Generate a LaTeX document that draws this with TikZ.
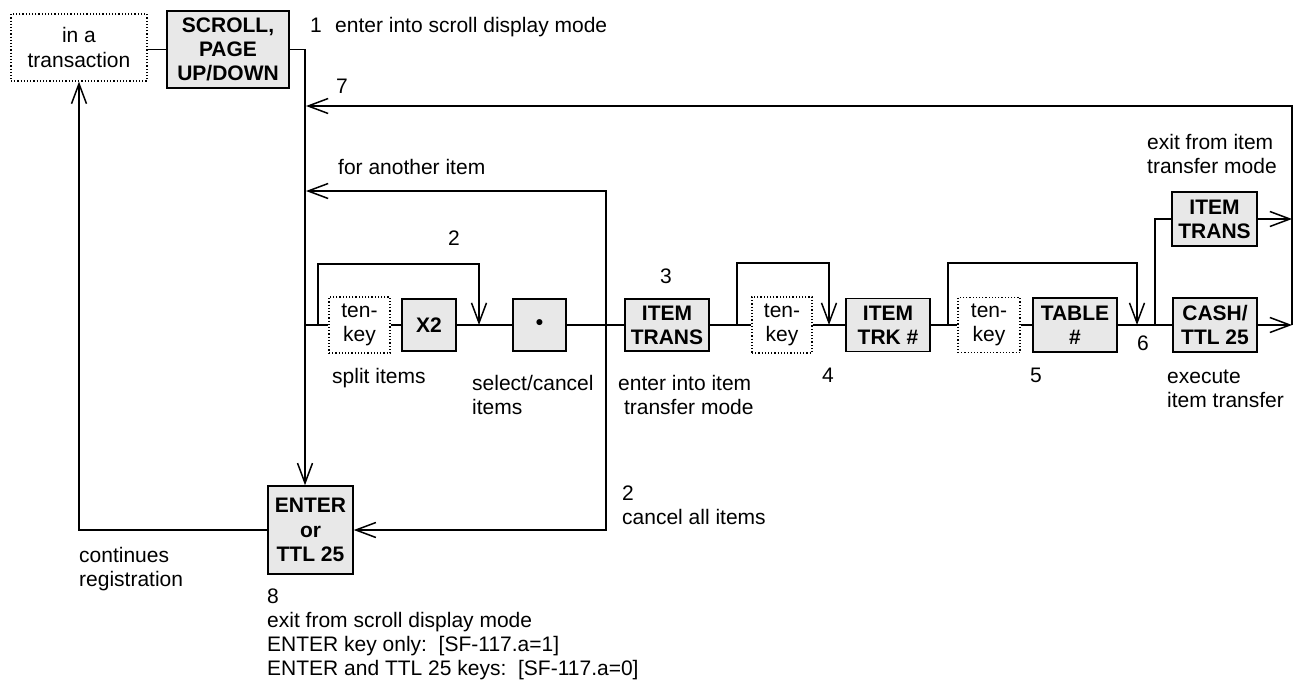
\documentclass[tikz,border=0pt]{standalone}
\usepackage{fontspec}
\setmainfont{Liberation Sans}
\usetikzlibrary{arrows.meta}
\definecolor{keygray}{RGB}{232,232,232}
\begin{document}
\begin{tikzpicture}[x=1pt,y=-1pt,
  every node/.style={font=\fontsize{21}{24.2}\selectfont, inner sep=0pt},
  key/.style={draw, fill=keygray, line width=1.5pt, font=\fontsize{21}{24.2}\selectfont\bfseries, align=center},
  tenkey/.style={draw, dotted, line width=1.2pt, fill=white, align=center},
  lbl/.style={anchor=base west, align=left},
  conn/.style={line width=1.5pt},
  arr/.style={conn, -{Straight Barb[length=20pt,width=15pt]}},
]
\fill[white] (0,0) rectangle (1298,680);
\useasboundingbox (0,0) rectangle (1298,680);

% key nodes
\node[tenkey, minimum width=136, minimum height=67] (trans) at (79,47.5) {in a\\transaction};
\node[key, minimum width=122, minimum height=77] (scroll) at (228,49.5) {SCROLL,\\PAGE\\UP/DOWN};
\node[tenkey, minimum width=61, minimum height=56] (tk1) at (359.5,325) {ten-\\key};
\node[key, minimum width=54, minimum height=52] (x2) at (429,325) {X2};
\node[key, minimum width=53, minimum height=52] (dot) at (539.5,325) {•};
\node[key, minimum width=84, minimum height=52] (it1) at (667,325) {ITEM\\TRANS};
\node[tenkey, minimum width=60, minimum height=56] (tk2) at (782,325) {ten-\\key};
\node[key, minimum width=84, minimum height=53] (trk) at (888,325) {ITEM\\TRK \#};
\node[tenkey, minimum width=62, minimum height=55] (tk3) at (989,325) {ten-\\key};
\node[key, minimum width=84, minimum height=54] (table) at (1075,325) {TABLE\\\#};
\node[key, minimum width=84, minimum height=54] (cash) at (1215,325) {CASH/\\TTL 25};
\node[key, minimum width=85, minimum height=54] (it2) at (1214.5,219) {ITEM\\TRANS};
\node[key, minimum width=85, minimum height=88] (enter) at (310.5,530) {ENTER\\or\\TTL 25};

% coordinates
\coordinate (spT) at (305,49.5);
\coordinate (m0) at (305,325);
\coordinate (b1a) at (318,325);
\coordinate (b1b) at (479,325);
\coordinate (j2) at (606,325);
\coordinate (s191) at (306,191);
\coordinate (b2a) at (737,325);
\coordinate (b2b) at (829,325);
\coordinate (b3a) at (948,325);
\coordinate (b3b) at (1137,325);
\coordinate (b4) at (1155,325);
\coordinate (rt) at (1292,106);
\coordinate (rb) at (1292,325);
\coordinate (s106) at (306,106);

% connectors
\draw[conn] (trans.east |- scroll.west) -- (scroll.west);
\draw[arr] (scroll.east) -- (spT) -- (spT |- enter.north);
\draw[conn] (m0) -- (tk1.west);
\draw[arr] (b1a) -- ++(0,-61) -| (b1b);
\draw[conn] (tk1.east) -- (x2.west);
\draw[conn] (x2.east) -- (dot.west);
\draw[conn] (dot.east) -- (it1.west);
\draw[arr] (j2) |- (s191);
\draw[arr] (j2) |- (enter.east);
\draw[conn] (it1.east) -- (tk2.west);
\draw[arr] (b2a) -- ++(0,-62) -| (b2b);
\draw[conn] (tk2.east) -- (trk.west);
\draw[conn] (trk.east) -- (tk3.west);
\draw[arr] (b3a) -- ++(0,-62) -| (b3b);
\draw[conn] (tk3.east) -- (table.west);
\draw[conn] (table.east) -- (cash.west);
\draw[conn] (b4) |- (it2.west);
\draw[arr] (it2.east) -- (it2.east -| rt);
\draw[arr] (cash.east) -- (rb);
\draw[arr] (rb) -- (rt) -- (s106);
\draw[arr] (enter.west) -| (trans.south);

% labels (base = baseline of the last line)
\node[lbl] (n1) at (310,32) {1};
\node[lbl] (t1) at (335,32) {enter into scroll display mode};
\node[lbl] (n7) at (336,93) {7};
\node[lbl] (tanother) at (338,174) {for another item};
\node[lbl] (n2a) at (448,245) {2};
\node[lbl] (n3) at (660,283) {3};
\node[lbl] (tsplit) at (332,383) {split items};
\node[lbl] (tsel) at (472,414.2) {select/cancel\\items};
\node[lbl] (tenteri) at (618,414.2) {enter into item\\\hspace*{5.8pt}transfer mode};
\node[lbl] (n4) at (822,382) {4};
\node[lbl] (n5) at (1030,382) {5};
\node[lbl] (n6) at (1137,350) {6};
\node[lbl] (texit) at (1147,173.2) {exit from item\\transfer mode};
\node[lbl] (texec) at (1167,407.2) {execute\\item transfer};
\node[lbl] (tcancel) at (622,524.2) {2\\cancel all items};
\node[lbl] (tcont) at (79,586.2) {continues\\registration};
\node[lbl] (t8) at (267,675.6) {8\\exit from scroll display mode\\ENTER key only:\ \ [SF-117.a=1]\\ENTER and TTL 25 keys:\ \ [SF-117.a=0]};
\end{tikzpicture}
\end{document}
